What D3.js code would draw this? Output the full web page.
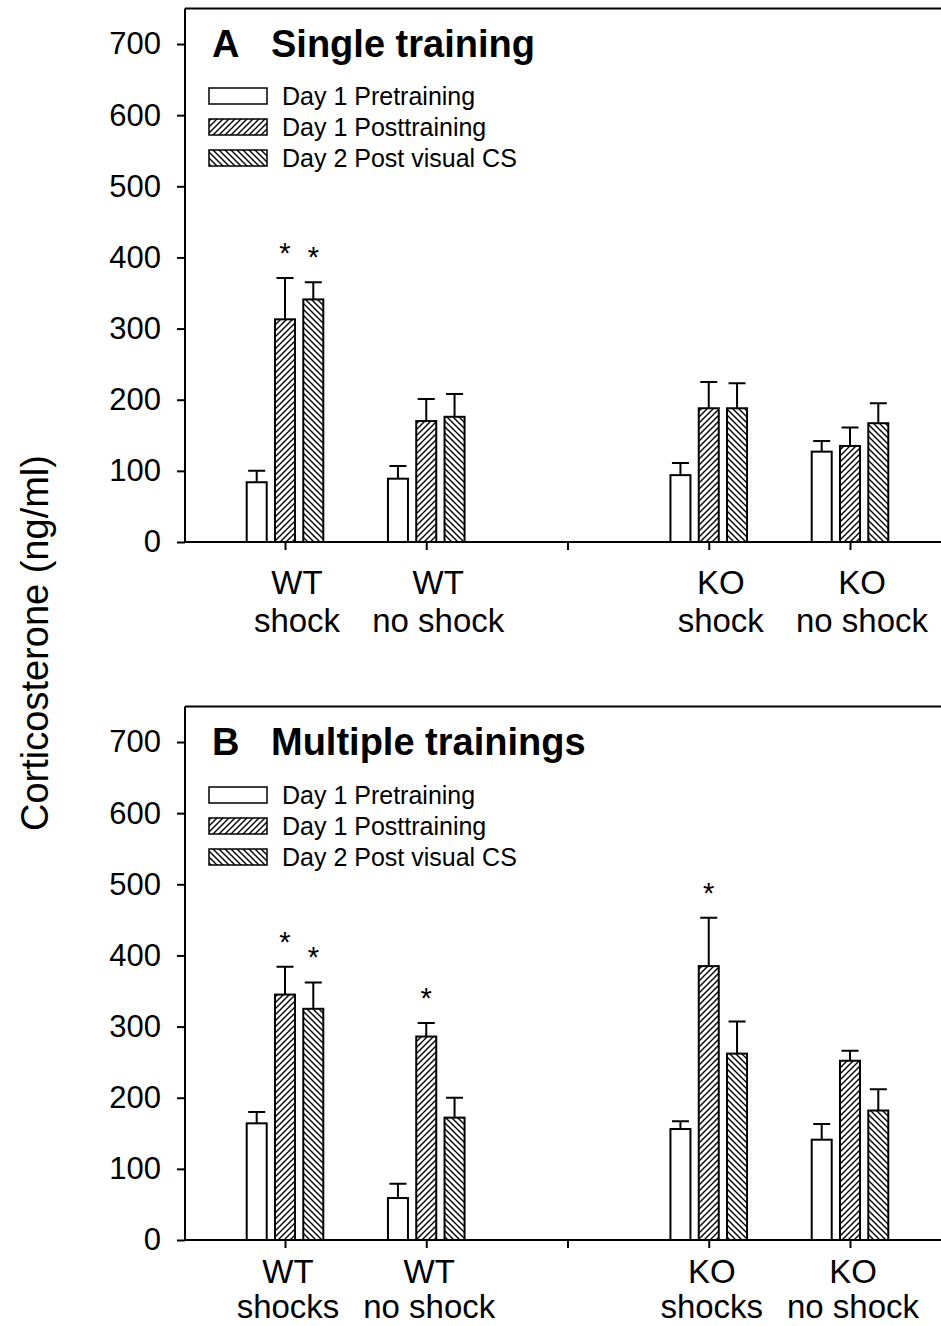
<!DOCTYPE html>
<html>
<head>
<meta charset="utf-8">
<script src="https://cdn.jsdelivr.net/npm/d3@7"></script>
<style>
  body { margin: 0; background: #fff; }
  svg { display: block; font-family: "Liberation Sans", Arial, sans-serif; }
</style>
</head>
<body>
<script>
// data (ng/ml)
var series = ["Day 1 Pretraining", "Day 1 Posttraining", "Day 2 Post visual CS"];
var slotsA = ["WT|shock", "WT|no shock", "gap", "KO|shock", "KO|no shock"];
var slotsB = ["WT|shocks", "WT|no shock", "gap", "KO|shocks", "KO|no shock"];
var yTicks = [0, 100, 200, 300, 400, 500, 600, 700];

var meanA = [[84, 313, 341], [89, 170, 176], [94, 188, 188], [127, 135, 167]];
var semA  = [[16, 58, 24], [18, 31, 32], [17, 37, 35], [15, 26, 28]];
var sigA  = [[0, 1, 1], [0, 0, 0], [0, 0, 0], [0, 0, 0]];

var meanB = [[164, 345, 325], [59, 286, 172], [156, 385, 262], [141, 252, 182]];
var semB  = [[16, 39, 37], [20, 19, 28], [11, 68, 45], [22, 14, 30]];
var sigB  = [[0, 1, 1], [0, 1, 0], [0, 1, 0], [0, 0, 0]];

var width = 941, height = 1326;

var svg = d3.select("body").append("svg")
    .attr("width", width)
    .attr("height", height);

var defs = svg.append("defs");
function hatch(id, forward) {
  var p = defs.append("pattern")
      .attr("id", id)
      .attr("patternUnits", "userSpaceOnUse")
      .attr("width", 6).attr("height", 6);
  p.append("rect").attr("width", 6).attr("height", 6).attr("fill", "#fff");
  var d = forward ? "M-1,1 l2,-2 M0,6 l6,-6 M5,7 l2,-2" : "M-1,5 l2,2 M0,0 l6,6 M5,-1 l2,2";
  p.append("path").attr("d", d).attr("stroke", "#000").attr("stroke-width", 1.4);
}
hatch("fwd", true);
hatch("back", false);
var fills = ["#fff", "url(#fwd)", "url(#back)"];

// y-axis title
svg.append("text")
    .attr("transform", "translate(48,643) rotate(-90)")
    .attr("text-anchor", "middle")
    .attr("font-size", 38)
    .text("Corticosterone (ng/ml)");

function panel(opts) {
  var left = 185, base = opts.base;
  var y = d3.scaleLinear().domain([0, 750]).range([base, base - 750 * 0.7114]);
  var x = d3.scalePoint().domain(opts.slots).range([285, 850]);
  var inner = d3.scaleBand().domain(series).range([-38.3, 38.3]).paddingInner(0.293);

  var g = svg.append("g");

  // top frame line
  g.append("line")
      .attr("x1", left).attr("x2", width)
      .attr("y1", y(750)).attr("y2", y(750))
      .attr("stroke", "#000").attr("stroke-width", 2);

  var yAxis = g.append("g")
      .attr("transform", "translate(" + left + ",0)")
      .call(d3.axisLeft(y).tickValues(yTicks).tickSize(8).tickSizeOuter(0).tickPadding(16));
  yAxis.select(".domain").attr("stroke-width", 2).attr("d", "M0," + y(0) + "V" + y(750));
  yAxis.selectAll(".tick line").attr("stroke-width", 2);
  yAxis.selectAll(".tick text").attr("font-size", 31).attr("fill", "#000")
      .attr("font-family", "Liberation Sans, Arial, sans-serif");

  var xAxis = g.append("g")
      .attr("transform", "translate(0," + base + ")")
      .call(d3.axisBottom(x).tickSize(8).tickSizeOuter(0).tickFormat(""));
  xAxis.select(".domain").attr("d", "M" + left + ",0H" + width).attr("stroke-width", 2);
  xAxis.selectAll(".tick line").attr("stroke-width", 2);

  // category labels (two lines)
  var cats = opts.slots.filter(function (s) { return s !== "gap"; });
  var lab = g.selectAll(".cat").data(cats).enter().append("text")
      .attr("text-anchor", "middle")
      .attr("font-size", 33)
      .attr("transform", function (d) { return "translate(" + (x(d) + opts.labelDx) + "," + (base + opts.labelDy) + ")"; });
  lab.append("tspan").attr("x", 0).attr("y", 0).text(function (d) { return d.split("|")[0]; });
  lab.append("tspan").attr("x", 0).attr("y", opts.lineGap).text(function (d) { return d.split("|")[1]; });

  // bars
  var rows = [];
  cats.forEach(function (c, i) {
    series.forEach(function (s, j) {
      rows.push({ cat: c, s: s, j: j, v: opts.mean[i][j], e: opts.sem[i][j], sig: opts.sig[i][j] });
    });
  });
  var bx = function (d) { return x(d.cat) + inner(d.s); };
  var cx = function (d) { return x(d.cat) + inner(d.s) + inner.bandwidth() / 2; };

  g.selectAll(".err").data(rows).enter().append("path")
      .attr("d", function (d) {
        var t = y(d.v + d.e);
        return "M" + cx(d) + "," + y(d.v) + "V" + t + "M" + (cx(d) - 8.5) + "," + t + "H" + (cx(d) + 8.5);
      })
      .attr("stroke", "#000").attr("stroke-width", 2).attr("fill", "none");

  g.selectAll(".bar").data(rows).enter().append("rect")
      .attr("x", bx)
      .attr("y", function (d) { return y(d.v); })
      .attr("width", inner.bandwidth())
      .attr("height", function (d) { return y(0) - y(d.v); })
      .attr("fill", function (d) { return fills[d.j]; })
      .attr("stroke", "#000").attr("stroke-width", 2);

  g.selectAll(".star").data(rows.filter(function (d) { return d.sig; })).enter().append("text")
      .attr("x", cx)
      .attr("y", function (d) { return y(d.v + d.e) - 31 + 16; })
      .attr("text-anchor", "middle")
      .attr("font-size", 29)
      .text("*");

  // title
  var t = g.append("text").attr("y", opts.titleY).attr("font-size", 38).attr("font-weight", "bold");
  t.append("tspan").attr("x", 212).text(opts.letter);
  t.append("tspan").attr("x", 271).text(opts.title);

  // legend
  var leg = g.selectAll(".leg").data(series).enter().append("g")
      .attr("transform", function (d, i) { return "translate(209," + (opts.legY + i * 31) + ")"; });
  leg.append("rect")
      .attr("x", 0).attr("y", -8).attr("width", 58).attr("height", 16)
      .attr("fill", function (d, i) { return fills[i]; })
      .attr("stroke", "#000").attr("stroke-width", 1.5);
  leg.append("text")
      .attr("x", 73).attr("y", 9)
      .attr("font-size", 25)
      .text(function (d) { return d; });
}

panel({ base: 542, slots: slotsA, mean: meanA, sem: semA, sig: sigA, labelDx: 12, labelDy: 52, lineGap: 38,
        letter: "A", title: "Single training", titleY: 57, legY: 96 });
panel({ base: 1240, slots: slotsB, mean: meanB, sem: semB, sig: sigB, labelDx: 3, labelDy: 43, lineGap: 35,
        letter: "B", title: "Multiple trainings", titleY: 755, legY: 795 });
</script>
</body>
</html>
